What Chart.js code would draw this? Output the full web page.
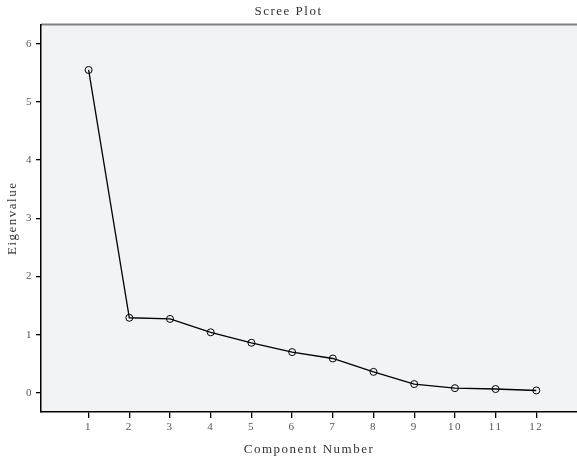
<!DOCTYPE html>
<html>
<head>
<meta charset="utf-8">
<script src="https://cdn.jsdelivr.net/npm/chart.js@4"></script>
<style>
  html, body { margin: 0; padding: 0; background: #fff; overflow: hidden; }
  canvas { display: block; }
</style>
</head>
<body>
<canvas id="screeChart" width="577" height="459"></canvas>
<script>
// data
const components = [1, 2, 3, 4, 5, 6, 7, 8, 9, 10, 11, 12];
const eigenvalues = [5.55, 1.29, 1.27, 1.04, 0.86, 0.70, 0.59, 0.36, 0.15, 0.08, 0.065, 0.04];
const yTickValues = [0, 1, 2, 3, 4, 5, 6];

const textColor = '#555';
const serif = "'Liberation Serif', 'DejaVu Serif', serif";

// spaced-out lettering + plot background and grey top edge
const plotFrame = {
  id: 'plotFrame',
  beforeUpdate(chart) { chart.ctx.letterSpacing = '1.5px'; },
  beforeDraw(chart) {
    const ctx = chart.ctx;
    const a = chart.chartArea;
    ctx.save();
    ctx.fillStyle = '#f2f3f5';
    ctx.fillRect(a.left, a.top, a.right - a.left, a.bottom - a.top);
    ctx.strokeStyle = '#808080';
    ctx.lineWidth = 2;
    ctx.beginPath();
    ctx.moveTo(a.left, a.top);
    ctx.lineTo(a.right, a.top);
    ctx.stroke();
    ctx.restore();
    ctx.letterSpacing = '1.5px';
  }
};

const ctx = document.getElementById('screeChart').getContext('2d');
new Chart(ctx, {
  type: 'line',
  data: {
    datasets: [{
      data: components.map((c, i) => ({ x: c, y: eigenvalues[i] })),
      borderColor: '#000',
      borderWidth: 1.3,
      pointRadius: 3.5,
      pointBorderWidth: 1,
      pointBorderColor: '#000',
      pointBackgroundColor: 'rgba(0,0,0,0)',
      tension: 0
    }]
  },
  options: {
    responsive: false,
    animation: false,
    layout: { padding: 0, autoPadding: false },
    plugins: {
      legend: { display: false },
      tooltip: { enabled: false },
      title: {
        display: true,
        text: 'Scree Plot',
        color: '#333',
        font: { family: serif, size: 13, weight: 'normal', lineHeight: 1.2 },
        padding: { top: 4, bottom: 5 }
      }
    },
    scales: {
      x: {
        type: 'linear',
        min: -0.17,
        max: 13.0,
        afterBuildTicks: scale => { scale.ticks = components.map(v => ({ value: v })); },
        afterFit: scale => {
          scale.height = 47;
          scale.paddingLeft = 0;
          scale.paddingRight = 0;
        },
        grid: { drawOnChartArea: false, drawTicks: true, tickLength: 6, color: '#000', lineWidth: 1.3 },
        border: { display: true, color: '#000', width: 1.5 },
        ticks: { color: textColor, font: { family: serif, size: 11 }, padding: 3, maxRotation: 0 },
        title: {
          display: true,
          text: 'Component Number',
          color: '#333',
          font: { family: serif, size: 13, lineHeight: 1.2 },
          padding: { top: 0, bottom: 2 }
        }
      },
      y: {
        min: -0.33,
        max: 6.33,
        afterBuildTicks: scale => { scale.ticks = yTickValues.map(v => ({ value: v })); },
        afterFit: scale => {
          scale.width = 41;
          scale.paddingTop = 0;
          scale.paddingBottom = 0;
        },
        grid: { drawOnChartArea: false, drawTicks: true, tickLength: 5, color: '#000', lineWidth: 1.3 },
        border: { display: true, color: '#000', width: 1.5 },
        ticks: { color: textColor, font: { family: serif, size: 11 }, padding: 3 },
        title: {
          display: true,
          text: 'Eigenvalue',
          color: '#333',
          font: { family: serif, size: 13, lineHeight: 1.2 },
          padding: { top: 5, bottom: 0 }
        }
      }
    }
  },
  plugins: [plotFrame]
});
</script>
</body>
</html>
